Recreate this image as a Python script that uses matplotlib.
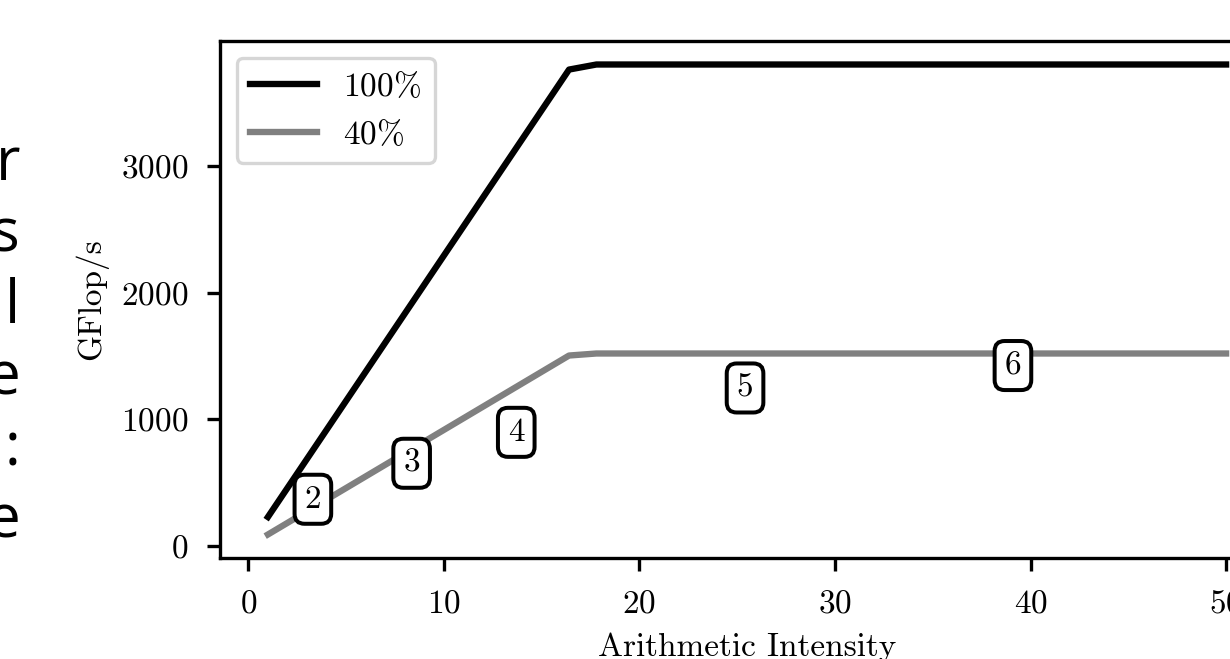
import matplotlib
matplotlib.use('Agg')
import matplotlib.pyplot as plt

plt.rcParams['font.family'] = 'cmr10'
plt.rcParams['mathtext.fontset'] = 'cm'
plt.rcParams['axes.formatter.use_mathtext'] = True
plt.rcParams['axes.linewidth'] = 1.0
plt.rcParams['xtick.major.width'] = 1.0
plt.rcParams['ytick.major.width'] = 1.0
plt.rcParams['xtick.major.size'] = 4
plt.rcParams['ytick.major.size'] = 4
plt.rcParams['xtick.major.pad'] = 5.5
plt.rcParams['ytick.major.pad'] = 5.5

# roofline data
ai = [1, 16.4, 17.8, 50]
peak_100 = [230, 3760, 3800, 3800]
peak_40 = [92, 1504, 1520, 1520]

# measured kernels
kernel_ids = ['2', '3', '4', '5', '6']
kernel_ai = [3.3, 8.35, 13.7, 25.4, 39.1]
kernel_perf = [370, 654, 898, 1248, 1425]

# bits of the surrounding page text (cut off on the left)
side_chars = ['r', 's', 'l', 'e', ':', 'e']

DPI = 240
fig = plt.figure(figsize=(1230/DPI, 659/DPI), dpi=DPI)
ax = fig.add_axes([220/1230, 101/659, 1054/1230, 517/659])

ax.plot(ai, peak_100, color='black', lw=1.9, label=r'$100\%$')
ax.plot(ai, peak_40, color='gray', lw=1.9, label=r'$40\%$')

for k, x, y in zip(kernel_ids, kernel_ai, kernel_perf):
    ax.text(x, y, k, ha='center', va='center', fontsize=10,
            bbox=dict(boxstyle='round,pad=0.3', fc='white', ec='black', lw=1.2))

ax.set_xticks([0, 10, 20, 30, 40, 50])
ax.set_yticks([0, 1000, 2000, 3000])
ax.set_xlabel('Arithmetic Intensity', fontsize=10)
ax.set_ylabel('GFlop/s', fontsize=10)
ax.legend(loc='upper left', fontsize=10)

for i, c in enumerate(side_chars):
    fig.text(20/1230, 1 - (180 + 71.4*i)/659, c, ha='right', va='baseline',
             fontsize=18, family='Open Sans')

fig.savefig('out.png', dpi=DPI)
